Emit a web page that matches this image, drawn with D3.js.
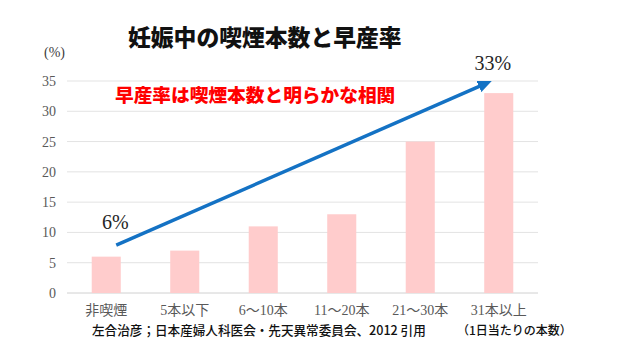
<!DOCTYPE html>
<html>
<head>
<meta charset="utf-8">
<script src="https://cdn.jsdelivr.net/npm/d3@7"></script>
<style>
  body { margin: 0; background: #fff; }
  svg { display: block; }
  .tick text { font-family: "Liberation Serif", "Noto Sans CJK JP", serif; fill: #595959; }
</style>
</head>
<body>
<div id="chart"></div>
<script>
  var categories = ["非喫煙", "5本以下", "6～10本", "11～20本", "21～30本", "31本以上"];
  var rates = [6, 7, 11, 13, 25, 33];
  var yTicks = [0, 5, 10, 15, 20, 25, 30, 35];
  var labelled = [["非喫煙", 6], ["31本以上", 33]];
  var trendFrom = ["非喫煙", 7.9],
      trendTo = ["31本以上", 35];

  var width = 640,
      height = 353;

  var margin = { top: 81, right: 102, bottom: 60, left: 67 },
      chartWidth = width - margin.left - margin.right,
      chartHeight = height - margin.top - margin.bottom;

  var svg = d3.select("#chart").append("svg")
      .attr("width", width)
      .attr("height", height);

  var x = d3.scaleBand()
      .domain(categories)
      .range([0, chartWidth])
      .paddingInner(0.63)
      .paddingOuter(0.315);

  var y = d3.scaleLinear()
      .domain([0, 35])
      .range([chartHeight, 0]);

  var g = svg.append("g")
      .attr("transform", "translate(" + margin.left + "," + margin.top + ")");

  // gridlines
  g.append("g")
    .selectAll("line")
    .data(yTicks)
    .join("line")
      .attr("x1", 0)
      .attr("x2", chartWidth)
      .attr("y1", d => y(d))
      .attr("y2", d => y(d))
      .attr("stroke", d => d == 0 ? "#d0d0d0" : "#e3e3e3")
      .attr("stroke-width", 1);

  var yAxis = d3.axisLeft(y)
      .tickValues(yTicks)
      .tickSize(0)
      .tickPadding(11);

  g.append("g")
      .attr("class", "y axis")
      .call(yAxis)
      .call(a => a.select(".domain").remove())
      .call(a => a.selectAll("text").attr("font-size", "14px"));

  var xAxis = d3.axisBottom(x)
      .tickSize(0)
      .tickPadding(12);

  g.append("g")
      .attr("class", "x axis")
      .attr("transform", "translate(0," + chartHeight + ")")
      .call(xAxis)
      .call(a => a.select(".domain").remove())
      .call(a => a.selectAll("text").attr("font-size", "14px"));

  // bars
  g.append("g")
    .selectAll("rect")
    .data(rates)
    .join("rect")
      .attr("x", (d, i) => x(categories[i]))
      .attr("y", d => y(d))
      .attr("width", x.bandwidth())
      .attr("height", d => y(0) - y(d))
      .attr("fill", "#ffcccc");

  // value labels
  var labelShift = { "非喫煙": [9, 28], "31本以上": [-6, 23] };
  g.append("g")
    .selectAll("text")
    .data(labelled)
    .join("text")
      .attr("x", d => x(d[0]) + x.bandwidth() / 2 + labelShift[d[0]][0])
      .attr("y", d => y(d[1]) - labelShift[d[0]][1])
      .attr("text-anchor", "middle")
      .attr("font-family", "Liberation Serif, serif")
      .attr("font-size", "20px")
      .attr("fill", "#262626")
      .text(d => d[1] + "%");

  // trend arrow
  svg.append("defs").append("marker")
      .attr("id", "head")
      .attr("markerUnits", "userSpaceOnUse")
      .attr("viewBox", "0 0 14 12")
      .attr("refX", 14)
      .attr("refY", 6)
      .attr("markerWidth", 14)
      .attr("markerHeight", 12)
      .attr("orient", "auto")
    .append("path")
      .attr("d", "M0,0L14,6L0,12Z")
      .attr("fill", "#1472c4");

  var x0 = x(trendFrom[0]) + x.bandwidth() / 2 + 10,
      y0 = y(trendFrom[1]),
      x1 = x(trendTo[0]) + x.bandwidth() / 2 - 7,
      y1 = y(trendTo[1]);
  // shorten the shaft so the head tip lands on the end point
  var len = Math.hypot(x1 - x0, y1 - y0);

  g.append("line")
      .attr("x1", x0)
      .attr("y1", y0)
      .attr("x2", x1 - (x1 - x0) / len * 8)
      .attr("y2", y1 - (y1 - y0) / len * 8)
      .attr("stroke", "#1472c4")
      .attr("stroke-width", 3.5);

  g.append("path")
      .attr("d", "M" + (x1 - (x1 - x0) / len * 14) + "," + (y1 - (y1 - y0) / len * 14) + "L" + x1 + "," + y1)
      .attr("stroke", "none")
      .attr("marker-end", "url(#head)");

  // titles and notes
  svg.append("text")
      .attr("x", 128)
      .attr("y", 46)
      .attr("font-family", "Noto Sans CJK JP")
      .attr("font-weight", 900)
      .attr("font-size", "22.8px")
      .attr("fill", "#111")
      .text("妊娠中の喫煙本数と早産率");

  svg.append("text")
      .attr("x", 44)
      .attr("y", 57)
      .attr("font-family", "Liberation Serif, serif")
      .attr("font-size", "14px")
      .attr("fill", "#404040")
      .text("(%)");

  svg.append("text")
      .attr("x", 115)
      .attr("y", 102)
      .attr("font-family", "Noto Sans CJK JP")
      .attr("font-weight", 900)
      .attr("font-size", "18.7px")
      .attr("fill", "#ff0000")
      .text("早産率は喫煙本数と明らかな相関");

  svg.append("text")
      .attr("x", 92)
      .attr("y", 335)
      .attr("font-family", "Noto Sans CJK JP")
      .attr("font-weight", 500)
      .attr("font-size", "12.6px")
      .attr("fill", "#111")
      .text("左合治彦；日本産婦人科医会・先天異常委員会、2012 引用");

  svg.append("text")
      .attr("x", 457)
      .attr("y", 335)
      .attr("font-family", "Noto Sans CJK JP")
      .attr("font-weight", 500)
      .attr("font-size", "12px")
      .attr("fill", "#111")
      .text("（1日当たりの本数）");
</script>
</body>
</html>
